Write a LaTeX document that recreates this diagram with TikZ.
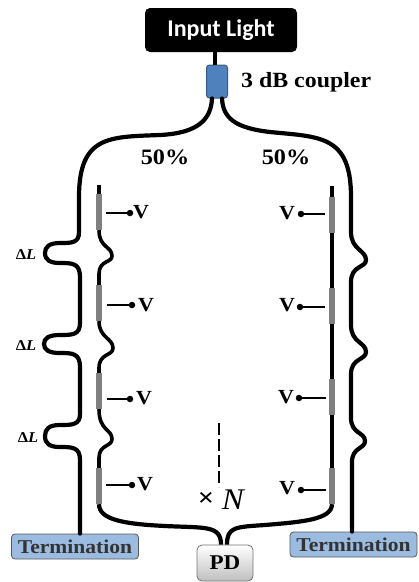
\documentclass[tikz,border=0pt]{standalone}
\usepackage{fontspec}
\setmainfont[FakeStretch=1.1]{Liberation Serif}
\newfontfamily\carlito{Carlito}
\usetikzlibrary{shadows}

\definecolor{couplerblue}{HTML}{4F81BD}
\definecolor{termblue}{HTML}{9CBBE0}
\definecolor{heatergray}{HTML}{808080}

\tikzset{fibre/.style={draw, line width=4.2pt, line cap=round},
         thin fibre/.style={draw, line width=3.6pt},
         heater/.style={fill=heatergray, minimum width=6.5pt, minimum height=36pt, inner sep=0pt},
         lead/.style={draw, line width=2pt},
         volt/.style={fill, circle, minimum size=6.5pt, inner sep=0pt},
         vlabel/.style={font=\bfseries\fontsize{20}{20}\selectfont, inner sep=0pt},
         pct/.style={font=\bfseries\fontsize{22}{22}\selectfont, inner sep=0pt},
         dl/.style={font=\bfseries\fontsize{15}{15}\selectfont, inner sep=0pt},
         term/.style={draw=black!65, fill=termblue, line width=0.8pt, rounded corners=3.5pt, minimum width=127pt,
                      minimum height=25pt, inner sep=0pt, text=black!80, font=\bfseries\fontsize{19.6}{19.6}\selectfont}}

\begin{document}
\begin{tikzpicture}[x=1pt, y=-1pt]
        \useasboundingbox (0, 0) rectangle (419, 582);

        % top
        \node[fill=black, rounded corners=5pt, minimum width=152pt, minimum height=44pt, inner sep=0pt,
              text=white, font=\carlito\bfseries\fontsize{24}{24}\selectfont] at (221, 30) (input) {Input Light};
        \node[draw=couplerblue!70!black, fill=couplerblue, line width=1pt, rounded corners=3pt,
              minimum width=21pt, minimum height=33pt, inner sep=0pt] at (217, 81.5) (coupler) {};
        \node[anchor=west, inner sep=0pt, font=\bfseries\fontsize{21.7}{21.7}\selectfont] at (241, 82) (couplerlabel) {3 dB coupler};
        \node[pct] at (165, 157) (pctl) {50\%};
        \node[pct] at (286, 157) (pctr) {50\%};

        % bottom
        \node[term] at (75, 546.5) (terml) {Termination};
        \node[term] at (353.5, 544.5) (termr) {Termination};
        \node[draw=black!55, top color=white, bottom color=black!25, rounded corners=5pt, line width=0.8pt,
              minimum width=56pt, minimum height=36pt, inner sep=0pt,
              font=\bfseries\fontsize{21}{21}\selectfont] at (225, 563) (pd) {PD};

        % heaters
        \node[heater] at (99, 212) (hl1) {};
        \node[heater] at (99, 303) (hl2) {};
        \node[heater] at (99, 391) (hl3) {};
        \node[heater] at (99, 486) (hl4) {};
        \node[heater] at (332, 215) (hr1) {};
        \node[heater] at (332, 306) (hr2) {};
        \node[heater] at (332, 397) (hr3) {};
        \node[heater] at (332, 486) (hr4) {};

        \coordinate (startl) at (99, 185);
        \coordinate (startr) at (332, 186);

        % voltages
        \node[volt] at (130, 213) (dl1) {};
        \node[volt] at (132, 305) (dl2) {};
        \node[volt] at (130, 399) (dl3) {};
        \node[volt] at (132, 485) (dl4) {};
        \node[volt] at (301, 214) (dr1) {};
        \node[volt] at (300, 307) (dr2) {};
        \node[volt] at (299, 398) (dr3) {};
        \node[volt] at (301, 490) (dr4) {};

        \node[vlabel] at (141, 212) (vl1) {V};
        \node[vlabel] at (146, 305) (vl2) {V};
        \node[vlabel] at (144, 398) (vl3) {V};
        \node[vlabel] at (145, 484) (vl4) {V};
        \node[vlabel] at (287, 213) (vr1) {V};
        \node[vlabel] at (287, 305) (vr2) {V};
        \node[vlabel] at (286, 397) (vr3) {V};
        \node[vlabel] at (287, 488) (vr4) {V};

        \draw[lead] (dl1) -- (106, 213);
        \draw[lead] (dl2) -- (107, 305);
        \draw[lead] (dl3) -- (107, 399);
        \draw[lead] (dl4) -- (106, 485);
        \draw[lead] (dr1) -- (325, 214);
        \draw[lead] (dr2) -- (325, 307);
        \draw[lead] (dr3) -- (326, 398);
        \draw[lead] (dr4) -- (326, 490);

        % labels
        \node[dl] at (26, 255) (dl-a) {Δ\textit{L}};
        \node[dl] at (26, 346) (dl-b) {Δ\textit{L}};
        \node[dl] at (28, 438) (dl-c) {Δ\textit{L}};
        \node[inner sep=0pt, font=\bfseries\fontsize{26}{26}\selectfont] at (206, 499) (times) {×};
        \node[inner sep=0pt, font=\itshape\fontsize{30}{30}\selectfont] at (233, 500) (nlabel) {N};
        \coordinate (dashtop) at (219, 423);
        \coordinate (dashend) at (219, 487);
        \draw[line width=2pt, dash pattern=on 11.5pt off 4.5pt] (dashtop) -- (dashend);

        % input to coupler
        \draw[fibre, line cap=butt] (215, 52) -- (215, 65);

        % left arm
        \draw[fibre]
            ([xshift=-5pt]coupler.south)
            .. controls (211, 118) and (200, 133) .. (160, 135)
            .. controls (110, 137) and (79, 135) .. (79, 197)
            -- (79, 232)
            .. controls (79, 243) and (72, 243) .. (60, 243)
            .. controls (49, 243) and (45, 247) .. (45, 253)
            .. controls (45, 260) and (50, 263) .. (60, 263)
            .. controls (72, 263) and (80, 263) .. (80, 277)
            -- (80, 323)
            .. controls (80, 335) and (72, 335) .. (60, 335)
            .. controls (49, 335) and (44, 338) .. (44, 344)
            .. controls (44, 350) and (49, 353) .. (60, 353)
            .. controls (72, 353) and (80, 353) .. (80, 367)
            -- (80, 414)
            .. controls (80, 425) and (72, 425) .. (60, 425)
            .. controls (49, 425) and (45, 429) .. (45, 436)
            .. controls (45, 444) and (50, 447) .. (60, 447)
            .. controls (72, 447) and (80, 447) .. (80, 460)
            -- (terml.north -| 80, 0);

        % right arm
        \draw[fibre]
            ([xshift=5pt]coupler.south)
            .. controls (223, 118) and (235, 128) .. (270, 132)
            .. controls (320, 137) and (351, 135) .. (351, 197)
            -- (351, 232)
            .. controls (351, 250) and (366, 250) .. (366, 260)
            .. controls (366, 268) and (351, 265) .. (351, 282)
            -- (351, 325)
            .. controls (351, 343) and (366, 342) .. (366, 352)
            .. controls (366, 360) and (351, 358) .. (351, 374)
            -- (351, 418)
            .. controls (351, 434) and (365, 432) .. (365, 441)
            .. controls (365, 449) and (352, 447) .. (352, 462)
            -- (termr.north -| 352, 0);

        % inner left
        \draw[thin fibre] (startl) -- (hl1.north);
        \draw[thin fibre]
            (hl1.south)
            .. controls (99, 248) and (112, 246) .. (112, 256)
            .. controls (112, 263) and (99, 260) .. (99, 274)
            -- (hl2.north);
        \draw[thin fibre]
            (hl2.south)
            .. controls (99, 338) and (113, 338) .. (113, 348)
            .. controls (113, 356) and (99, 353) .. (99, 368)
            -- (hl3.north);
        \draw[thin fibre]
            (hl3.south)
            .. controls (99, 431) and (112, 429) .. (112, 439)
            .. controls (112, 447) and (99, 444) .. (99, 458)
            -- (hl4.north);

        % inner right
        \draw[thin fibre] (startr) -- (hr1.north);
        \draw[thin fibre] (hr1.south) -- (hr2.north);
        \draw[thin fibre] (hr2.south) -- (hr3.north);
        \draw[thin fibre] (hr3.south) -- (hr4.north);

        % combiner
        \draw[fibre, line cap=butt]
            (hl4.south)
            .. controls (99, 520) and (125, 524) .. (165, 526)
            .. controls (205, 528) and (221, 525) .. ([xshift=-4pt]pd.north);
        \draw[fibre, line cap=butt]
            (hr4.south)
            .. controls (332, 520) and (300, 522) .. (265, 525)
            .. controls (235, 527) and (227, 527) .. ([xshift=2pt]pd.north);
\end{tikzpicture}
\end{document}
